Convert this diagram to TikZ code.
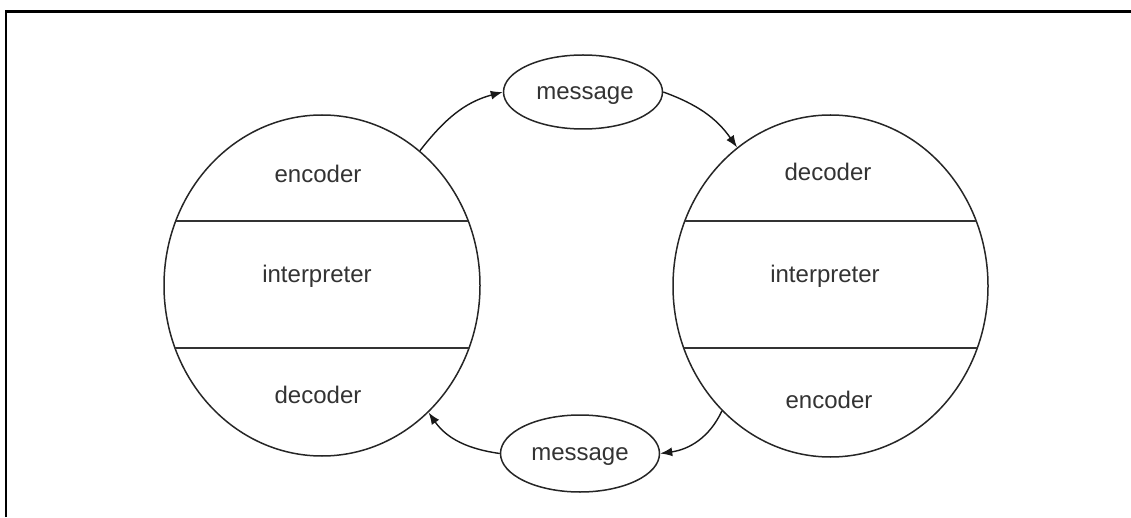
\documentclass[tikz,border=0pt]{standalone}
\usepackage{fontspec}
\setmainfont{Liberation Sans}
\usetikzlibrary{arrows.meta,shapes.geometric}
\begin{document}
\begin{tikzpicture}[x=1pt,y=1pt,
  agent/.style={draw=black!85,line width=1.5pt,ellipse,inner sep=0pt},
  msg/.style={draw=black!85,line width=1.5pt,ellipse,inner sep=0pt,minimum width=159pt},
  sep/.style={draw=black!80,line width=1.8pt},
  lbl/.style={font=\fontsize{24}{26}\selectfont,text=black!80,anchor=base,inner sep=0pt},
  flow/.style={draw=black!90,line width=1.4pt,-{Latex[length=12pt,width=9pt]}},
  frame/.style={draw=black,line width=2.5pt}]
\useasboundingbox (0,0) rectangle (1131,517);
\coordinate (fa) at (6,0);
\coordinate (fb) at (6,505.5);
\coordinate (fc) at (1131,505.5);
\draw[frame] (fa) -- (fb) -- (fc);

\node[agent,minimum width=316pt,minimum height=341pt] (L) at (322,231.5) {};
\node[agent,minimum width=315pt,minimum height=342pt] (R) at (830.5,231) {};

\begin{scope}
  \clip (322,231.5) ellipse [x radius=158pt,y radius=170.5pt];
  \draw[sep] (150,296) -- (500,296);
  \draw[sep] (150,169) -- (500,169);
\end{scope}
\begin{scope}
  \clip (830.5,231) ellipse [x radius=157.5pt,y radius=171pt];
  \draw[sep] (660,296) -- (1000,296);
  \draw[sep] (660,169) -- (1000,169);
\end{scope}

\node[lbl] (le) at (318,334) {encoder};
\node[lbl] (li) at (317,234) {interpreter};
\node[lbl] (ld) at (318,114) {decoder};
\node[lbl] (rd) at (828,336) {decoder};
\node[lbl] (ri) at (825,234) {interpreter};
\node[lbl] (re) at (829,109) {encoder};

\node[msg,minimum height=74pt] (M1) at (583,425) {};
\node[msg,minimum height=77pt] (M2) at (580,63.5) {};
\node[lbl] (m1t) at (585,417) {message};
\node[lbl] (m2t) at (580,57) {message};

\draw[flow] (L.54) to[out=52,in=195] (M1.west);
\draw[flow] (M1.east) to[out=-20,in=125] (R.124);
\draw[flow] (R.229) to[out=245,in=8] (M2.east);
\draw[flow] (M2.west) to[out=172,in=-55] (L.-50);
\end{tikzpicture}
\end{document}
